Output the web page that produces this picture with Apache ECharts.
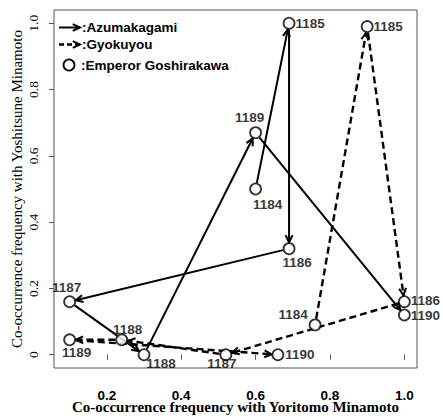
<!DOCTYPE html>
<html><head><meta charset="utf-8">
<script src="https://cdn.jsdelivr.net/npm/echarts@6/dist/echarts.min.js"></script>
<style>html,body{margin:0;padding:0;background:#fff}#c{width:443px;height:416px}</style>
</head><body><div id="c"></div>
<script>
// ---- data ----
const years = ['1184', '1185', '1186', '1187', '1188', '1189', '1190'];
const azumaX = [0.60, 0.69, 0.69, 0.10, 0.30, 0.60, 1.00];
const azumaY = [0.50, 1.00, 0.32, 0.16, 0.00, 0.67, 0.12];
const gyokuX = [0.76, 0.90, 1.00, 0.52, 0.24, 0.10, 0.66];
const gyokuY = [0.09, 0.99, 0.16, 0.00, 0.045, 0.045, 0.00];
const xTickValues = [0.2, 0.4, 0.6, 0.8, 1.0];
const xTickLabels = ['0.2', '0.4', '0.6', '0.8', '1.0'];
const yTickValues = [0, 0.2, 0.4, 0.6, 0.8, 1.0];
const yTickLabels = ['0', '0.2', '0.4', '0.6', '0.8', '1.0'];
const legendNames = [':Azumakagami', ':Gyokuyou', ':Emperor Goshirakawa'];
const xAxisTitle = 'Co-occurrence frequency with Yoritomo Minamoto';
const yAxisTitle = 'Co-occurrence frequency with Yoshitsune Minamoto';

// ---- styles ----
const SANS = 'Liberation Sans';
const SERIF = 'Liberation Serif';
const azumaLabelOffset = [[12, 15], [21, 0], [8, 14], [-3, -14], [17, 9], [-6, -15], [21, 1]];
const gyokuLabelOffset = [[-22, -10], [21, 0], [21, -1], [-4, 9], [6, -10], [7, 13], [22, 0]];
const R = 5.5;

function segments(xs, ys) {
  const out = [];
  for (let i = 0; i < xs.length - 1; i++) out.push([xs[i], ys[i], xs[i + 1], ys[i + 1]]);
  return out;
}
function points(xs, ys, offs) {
  return xs.map((x, i) => ({ value: [x, ys[i]], label: { offset: offs[i] } }));
}
function chevron(e, ux, uy) {
  const ah = 8, ang = Math.PI / 7, c = Math.cos(ang), s = Math.sin(ang);
  const a1 = [e[0] - ah * (ux * c - uy * s), e[1] - ah * (uy * c + ux * s)];
  const a2 = [e[0] - ah * (ux * c + uy * s), e[1] - ah * (uy * c - ux * s)];
  return [a1, e, a2];
}
function arrowRender(dashed) {
  return function (params, api) {
    const p1 = api.coord([api.value(0), api.value(1)]);
    const p2 = api.coord([api.value(2), api.value(3)]);
    const dx = p2[0] - p1[0], dy = p2[1] - p1[1], L = Math.hypot(dx, dy);
    const ux = dx / L, uy = dy / L, r = R + 0.8;
    const s = [p1[0] + ux * r, p1[1] + uy * r], e = [p2[0] - ux * r, p2[1] - uy * r];
    return {
      type: 'group', children: [
        { type: 'line', shape: { x1: s[0], y1: s[1], x2: e[0], y2: e[1] },
          style: { stroke: '#000', lineWidth: dashed ? 2.4 : 2, lineDash: dashed ? [7, 4] : null } },
        { type: 'polyline', shape: { points: chevron(e, ux, uy) },
          style: { stroke: '#000', lineWidth: 2, fill: null } }
      ]
    };
  };
}

const scatterStyle = {
  type: 'scatter', symbol: 'circle', symbolSize: 2 * R, z: 5,
  itemStyle: { color: '#fff', borderColor: '#000', borderWidth: 1.8 },
  label: { show: true, position: 'inside', color: '#000', fontFamily: SANS, fontWeight: 'bold', fontSize: 13.5,
    textBorderWidth: 0, textBorderColor: 'transparent',
    formatter: p => years[p.dataIndex] },
  emphasis: { disabled: true }
};

const chart = echarts.init(document.getElementById('c'), null, { renderer: 'svg' });
const legendY = [27.5, 44.5, 65];
const lx0 = 59, lx1 = 80;
const legendFont = 'bold 13.5px "Liberation Sans"';
chart.setOption({
  animation: false,
  backgroundColor: '#fff',
  grid: { left: 54, right: 26, top: 10, bottom: 48, show: true, borderColor: '#555', borderWidth: 1,
    backgroundColor: 'transparent', containLabel: false, outerBoundsMode: 'none' },
  xAxis: {
    type: 'value', min: 0.058, max: 1.034,
    axisLine: { show: false },
    splitLine: { show: false },
    axisTick: { show: true, length: 5, lineStyle: { color: '#555' }, customValues: xTickValues },
    axisLabel: { customValues: xTickValues, formatter: v => xTickLabels[xTickValues.findIndex(t => Math.abs(t - v) < 1e-6)],
      fontFamily: SANS, fontWeight: 'bold', fontSize: 13.5, color: '#000', margin: 20 },
    name: xAxisTitle, nameLocation: 'middle', nameGap: 31, nameMoveOverlap: false,
    nameTextStyle: { fontFamily: SERIF, fontWeight: 'bold', fontSize: 15, color: '#000', lineHeight: 15 }
  },
  yAxis: {
    type: 'value', min: -0.04, max: 1.04,
    axisLine: { show: false },
    splitLine: { show: false },
    axisTick: { show: true, length: 5, lineStyle: { color: '#555' }, customValues: yTickValues },
    axisLabel: { customValues: yTickValues, rotate: 90, formatter: v => yTickLabels[yTickValues.findIndex(t => Math.abs(t - v) < 1e-6)],
      fontFamily: SERIF, fontSize: 13.5, color: '#000', margin: 14 },
    name: yAxisTitle, nameLocation: 'middle', nameGap: 30, nameMoveOverlap: false,
    nameTextStyle: { fontFamily: SERIF, fontSize: 15, color: '#000' }
  },
  series: [
    { type: 'custom', name: 'Azumakagami', renderItem: arrowRender(false), data: segments(azumaX, azumaY),
      encode: { x: [0, 2], y: [1, 3] }, z: 2, silent: true },
    { type: 'custom', name: 'Gyokuyou', renderItem: arrowRender(true), data: segments(gyokuX, gyokuY),
      encode: { x: [0, 2], y: [1, 3] }, z: 2, silent: true },
    Object.assign({}, scatterStyle, { name: 'Azumakagami points', data: points(azumaX, azumaY, azumaLabelOffset) }),
    Object.assign({}, scatterStyle, { name: 'Gyokuyou points', data: points(gyokuX, gyokuY, gyokuLabelOffset) })
  ],
  graphic: [
    { type: 'line', shape: { x1: lx0, y1: legendY[0], x2: lx1, y2: legendY[0] }, style: { stroke: '#000', lineWidth: 2 } },
    { type: 'polyline', shape: { points: chevron([lx1, legendY[0]], 1, 0) }, style: { stroke: '#000', lineWidth: 2, fill: null } },
    { type: 'line', shape: { x1: lx0, y1: legendY[1], x2: lx1, y2: legendY[1] }, style: { stroke: '#000', lineWidth: 2.4, lineDash: [5, 3] } },
    { type: 'polyline', shape: { points: chevron([lx1, legendY[1]], 1, 0) }, style: { stroke: '#000', lineWidth: 2, fill: null } },
    { type: 'circle', shape: { cx: 69, cy: legendY[2], r: R }, style: { fill: '#fff', stroke: '#000', lineWidth: 1.8 } },
    { type: 'text', x: 82, y: legendY[0], style: { text: legendNames[0], fill: '#000', font: legendFont, verticalAlign: 'middle' } },
    { type: 'text', x: 82, y: legendY[1], style: { text: legendNames[1], fill: '#000', font: legendFont, verticalAlign: 'middle' } },
    { type: 'text', x: 81, y: legendY[2], style: { text: legendNames[2], fill: '#000', font: legendFont, verticalAlign: 'middle' } }
  ]
});
</script>
</body></html>
